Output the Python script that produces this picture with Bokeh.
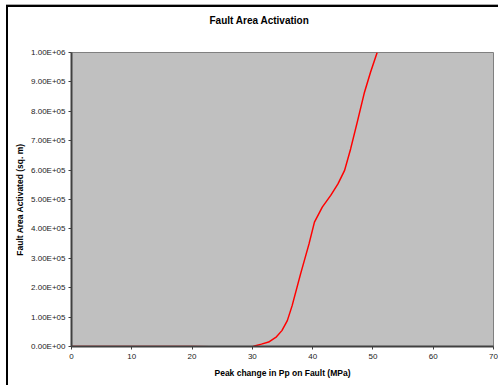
from bokeh.plotting import figure
from bokeh.embed import file_html
from bokeh.resources import INLINE
from bokeh.models import CustomJSTickFormatter, FixedTicker, Range1d, Title

# data
x_mpa = [0, 10, 20, 23, 26, 29.5, 30.5, 31.5, 32.7, 34.0, 34.9, 35.8, 36.6, 38.0, 39.4,
         40.3, 41.6, 43.0, 44.2, 45.3, 46.3, 47.4, 48.6, 49.6, 50.7]
area = [0, 0, 0, -1000, -2500, -4500, 2500, 8000, 15000, 33000, 54000, 88000, 139000,
        247000, 349000, 423000, 474000, 514000, 553000, 599000, 672000, 763000, 865000,
        933000, 1000000]
x_ticks = [0, 10, 20, 30, 40, 50, 60, 70]
y_ticks = [0, 100000, 200000, 300000, 400000, 500000, 600000, 700000, 800000, 900000, 1000000]
title_text = "Fault Area Activation"

FONT = "Liberation Sans"

p = figure(width=498, height=385, output_backend="svg", toolbar_location=None,
           x_range=Range1d(0, 70), y_range=Range1d(0, 1000000), title_location=None,
           min_border_left=71, min_border_right=5, min_border_top=52, min_border_bottom=39)

spacer = Title(text=" ", text_font_size="1px", standoff=24)
p.add_layout(spacer, "above")
main_title = Title(text=title_text, align="left", offset=138, standoff=0,
                   text_font=FONT, text_font_size="10px", text_font_style="bold",
                   text_color="black")
p.add_layout(main_title, "above")

p.background_fill_color = "#C0C0C0"
p.border_fill_color = None
p.outline_line_color = "#808080"
p.outline_line_width = 1
p.xgrid.visible = False
p.ygrid.visible = False

p.line(x_mpa, area, line_color="#FF0000", line_width=1.5)

p.xaxis.ticker = FixedTicker(ticks=x_ticks)
p.yaxis.ticker = FixedTicker(ticks=y_ticks)
p.yaxis.formatter = CustomJSTickFormatter(code="""
var s = tick.toExponential(2).toUpperCase();
return s.replace(/E([+-])(\\d)$/, 'E$10$2');
""")

for ax in (p.xaxis[0], p.yaxis[0]):
    ax.axis_line_color = "#404040"
    ax.axis_line_width = 2
    ax.major_tick_line_color = "#404040"
    ax.major_tick_line_width = 1
    ax.major_tick_out = 3
    ax.major_tick_in = 0
    ax.minor_tick_line_color = None
    ax.major_label_text_font = FONT
    ax.major_label_text_font_size = "8px"
    ax.major_label_text_color = "#222222"
    ax.axis_label_text_font = FONT
    ax.axis_label_text_font_size = "8.5px"
    ax.axis_label_text_font_style = "bold"
    ax.axis_label_text_color = "black"

p.xaxis.axis_label = "Peak change in Pp on Fault (MPa)"
p.yaxis.axis_label = "Fault Area Activated (sq. m)"
p.xaxis.major_label_standoff = 4
p.xaxis.axis_label_standoff = 6
p.yaxis.major_label_standoff = 3
p.yaxis.axis_label_standoff = 3

p.styles = {
    "background-image": "linear-gradient(#000,#000), linear-gradient(#000,#000), linear-gradient(#aaa,#aaa)",
    "background-position": "6px 5px, 6px 5px, 6px 4px",
    "background-size": "2px 100%, 100% 2px, 100% 1px",
    "background-repeat": "no-repeat",
}

open("out.html", "w").write(file_html(p, INLINE))
